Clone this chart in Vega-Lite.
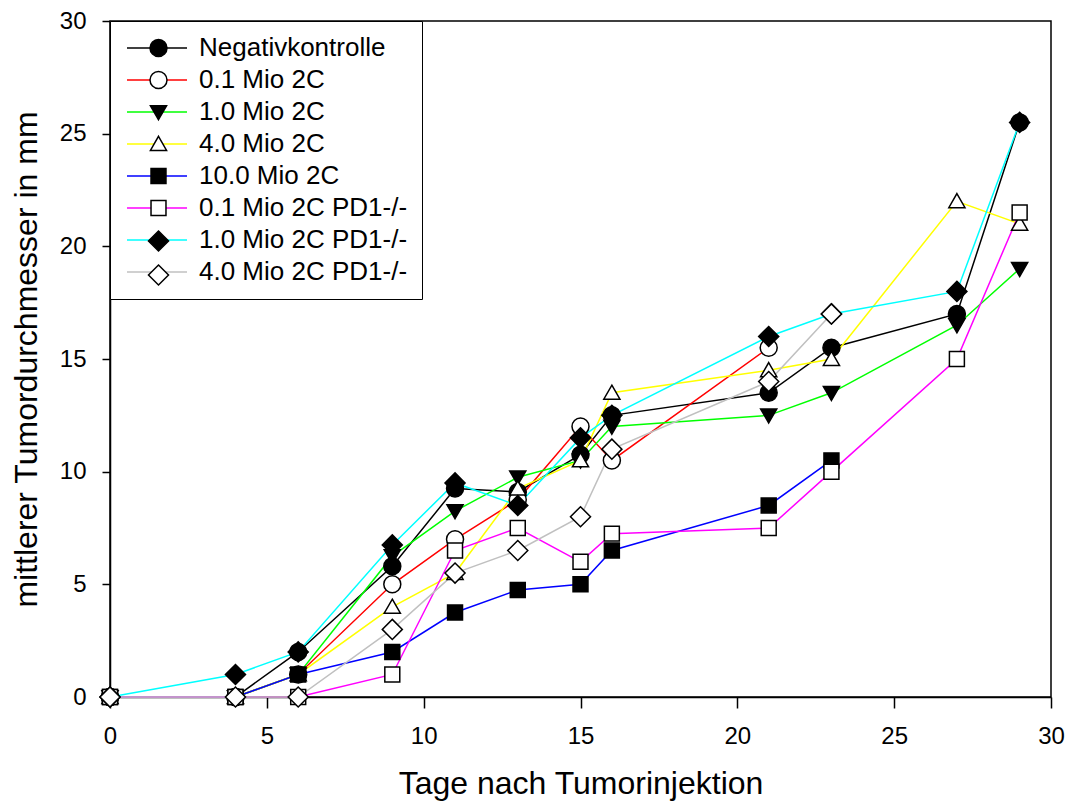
{
  "$schema": "https://vega.github.io/schema/vega-lite/v6.json",
  "width": 941,
  "height": 676,
  "autosize": "none",
  "padding": {"left": 110, "top": 21, "right": 18, "bottom": 104},
  "background": "white",
  "config": {
    "font": "Liberation Sans",
    "view": {"stroke": "black", "strokeWidth": 1.5},
    "axis": {
      "domainColor": "black", "domainWidth": 1.5, "tickColor": "black", "tickWidth": 1.5,
      "labelColor": "black", "titleColor": "black", "labelFontSize": 24, "titleFontSize": 32,
      "titleFontWeight": "normal", "grid": false, "labelFont": "Liberation Sans", "titleFont": "Liberation Sans",
      "labelPadding": 16, "labelFlush": false
    }
  },
  "resolve": {"legend": {"color": "independent", "shape": "independent", "fill": "independent"}},
  "data": {
    "values": [
      {"group": "Negativkontrolle", "day": 0, "mm": 0},
      {"group": "Negativkontrolle", "day": 4, "mm": 0},
      {"group": "Negativkontrolle", "day": 6, "mm": 2},
      {"group": "Negativkontrolle", "day": 9, "mm": 5.8},
      {"group": "Negativkontrolle", "day": 11, "mm": 9.25},
      {"group": "Negativkontrolle", "day": 13, "mm": 9.1},
      {"group": "Negativkontrolle", "day": 15, "mm": 10.75},
      {"group": "Negativkontrolle", "day": 16, "mm": 12.5},
      {"group": "Negativkontrolle", "day": 21, "mm": 13.5},
      {"group": "Negativkontrolle", "day": 23, "mm": 15.5},
      {"group": "Negativkontrolle", "day": 27, "mm": 17},
      {"group": "Negativkontrolle", "day": 29, "mm": 25.5},

      {"group": "0.1 Mio 2C", "day": 0, "mm": 0},
      {"group": "0.1 Mio 2C", "day": 4, "mm": 0},
      {"group": "0.1 Mio 2C", "day": 6, "mm": 1},
      {"group": "0.1 Mio 2C", "day": 9, "mm": 5},
      {"group": "0.1 Mio 2C", "day": 11, "mm": 7},
      {"group": "0.1 Mio 2C", "day": 13, "mm": 8.75},
      {"group": "0.1 Mio 2C", "day": 15, "mm": 12},
      {"group": "0.1 Mio 2C", "day": 16, "mm": 10.5},
      {"group": "0.1 Mio 2C", "day": 21, "mm": 15.5},

      {"group": "1.0 Mio 2C", "day": 0, "mm": 0},
      {"group": "1.0 Mio 2C", "day": 4, "mm": 0},
      {"group": "1.0 Mio 2C", "day": 6, "mm": 1},
      {"group": "1.0 Mio 2C", "day": 9, "mm": 6.25},
      {"group": "1.0 Mio 2C", "day": 11, "mm": 8.25},
      {"group": "1.0 Mio 2C", "day": 13, "mm": 9.75},
      {"group": "1.0 Mio 2C", "day": 15, "mm": 10.5},
      {"group": "1.0 Mio 2C", "day": 16, "mm": 12},
      {"group": "1.0 Mio 2C", "day": 21, "mm": 12.5},
      {"group": "1.0 Mio 2C", "day": 23, "mm": 13.5},
      {"group": "1.0 Mio 2C", "day": 27, "mm": 16.5},
      {"group": "1.0 Mio 2C", "day": 29, "mm": 19},

      {"group": "4.0 Mio 2C", "day": 0, "mm": 0},
      {"group": "4.0 Mio 2C", "day": 4, "mm": 0},
      {"group": "4.0 Mio 2C", "day": 6, "mm": 1},
      {"group": "4.0 Mio 2C", "day": 9, "mm": 4},
      {"group": "4.0 Mio 2C", "day": 11, "mm": 5.5},
      {"group": "4.0 Mio 2C", "day": 13, "mm": 9.25},
      {"group": "4.0 Mio 2C", "day": 15, "mm": 10.5},
      {"group": "4.0 Mio 2C", "day": 16, "mm": 13.5},
      {"group": "4.0 Mio 2C", "day": 21, "mm": 14.5},
      {"group": "4.0 Mio 2C", "day": 23, "mm": 15},
      {"group": "4.0 Mio 2C", "day": 27, "mm": 22},
      {"group": "4.0 Mio 2C", "day": 29, "mm": 21},

      {"group": "10.0 Mio 2C", "day": 0, "mm": 0},
      {"group": "10.0 Mio 2C", "day": 4, "mm": 0},
      {"group": "10.0 Mio 2C", "day": 6, "mm": 1},
      {"group": "10.0 Mio 2C", "day": 9, "mm": 2},
      {"group": "10.0 Mio 2C", "day": 11, "mm": 3.75},
      {"group": "10.0 Mio 2C", "day": 13, "mm": 4.75},
      {"group": "10.0 Mio 2C", "day": 15, "mm": 5},
      {"group": "10.0 Mio 2C", "day": 16, "mm": 6.5},
      {"group": "10.0 Mio 2C", "day": 21, "mm": 8.5},
      {"group": "10.0 Mio 2C", "day": 23, "mm": 10.5},

      {"group": "0.1 Mio 2C PD1-/-", "day": 0, "mm": 0},
      {"group": "0.1 Mio 2C PD1-/-", "day": 4, "mm": 0},
      {"group": "0.1 Mio 2C PD1-/-", "day": 6, "mm": 0},
      {"group": "0.1 Mio 2C PD1-/-", "day": 9, "mm": 1},
      {"group": "0.1 Mio 2C PD1-/-", "day": 11, "mm": 6.5},
      {"group": "0.1 Mio 2C PD1-/-", "day": 13, "mm": 7.5},
      {"group": "0.1 Mio 2C PD1-/-", "day": 15, "mm": 6},
      {"group": "0.1 Mio 2C PD1-/-", "day": 16, "mm": 7.25},
      {"group": "0.1 Mio 2C PD1-/-", "day": 21, "mm": 7.5},
      {"group": "0.1 Mio 2C PD1-/-", "day": 23, "mm": 10},
      {"group": "0.1 Mio 2C PD1-/-", "day": 27, "mm": 15},
      {"group": "0.1 Mio 2C PD1-/-", "day": 29, "mm": 21.5},

      {"group": "1.0 Mio 2C PD1-/-", "day": 0, "mm": 0},
      {"group": "1.0 Mio 2C PD1-/-", "day": 4, "mm": 1},
      {"group": "1.0 Mio 2C PD1-/-", "day": 6, "mm": 2},
      {"group": "1.0 Mio 2C PD1-/-", "day": 9, "mm": 6.75},
      {"group": "1.0 Mio 2C PD1-/-", "day": 11, "mm": 9.5},
      {"group": "1.0 Mio 2C PD1-/-", "day": 13, "mm": 8.5},
      {"group": "1.0 Mio 2C PD1-/-", "day": 15, "mm": 11.5},
      {"group": "1.0 Mio 2C PD1-/-", "day": 16, "mm": 12.5},
      {"group": "1.0 Mio 2C PD1-/-", "day": 21, "mm": 16},
      {"group": "1.0 Mio 2C PD1-/-", "day": 23, "mm": 17},
      {"group": "1.0 Mio 2C PD1-/-", "day": 27, "mm": 18},
      {"group": "1.0 Mio 2C PD1-/-", "day": 29, "mm": 25.5},

      {"group": "4.0 Mio 2C PD1-/-", "day": 0, "mm": 0},
      {"group": "4.0 Mio 2C PD1-/-", "day": 4, "mm": 0},
      {"group": "4.0 Mio 2C PD1-/-", "day": 6, "mm": 0},
      {"group": "4.0 Mio 2C PD1-/-", "day": 9, "mm": 3},
      {"group": "4.0 Mio 2C PD1-/-", "day": 11, "mm": 5.5},
      {"group": "4.0 Mio 2C PD1-/-", "day": 13, "mm": 6.5},
      {"group": "4.0 Mio 2C PD1-/-", "day": 15, "mm": 8},
      {"group": "4.0 Mio 2C PD1-/-", "day": 16, "mm": 11},
      {"group": "4.0 Mio 2C PD1-/-", "day": 21, "mm": 14},
      {"group": "4.0 Mio 2C PD1-/-", "day": 23, "mm": 17}
    ]
  },
  "encoding": {
    "x": {
      "field": "day", "type": "quantitative",
      "scale": {"domain": [0, 30], "nice": false, "zero": false},
      "axis": {"values": [0, 5, 10, 15, 20, 25, 30], "title": "Tage nach Tumorinjektion", "tickSize": 11, "titlePadding": 20}
    },
    "y": {
      "field": "mm", "type": "quantitative",
      "scale": {"domain": [0, 30], "nice": false},
      "axis": {"values": [0, 5, 10, 15, 20, 25, 30], "title": "mittlerer Tumordurchmesser in mm", "tickSize": 8, "titlePadding": 16}
    }
  },
  "layer": [
    {
      "mark": {"type": "line", "strokeWidth": 1.5},
      "encoding": {
        "color": {
          "field": "group", "type": "nominal",
          "scale": {
            "domain": ["Negativkontrolle", "0.1 Mio 2C", "1.0 Mio 2C", "4.0 Mio 2C", "10.0 Mio 2C", "0.1 Mio 2C PD1-/-", "1.0 Mio 2C PD1-/-", "4.0 Mio 2C PD1-/-"],
            "range": ["#000000", "#ff0000", "#00ff00", "#ffff00", "#0000ff", "#ff00ff", "#00ffff", "#c0c0c0"]
          },
          "legend": {
            "orient": "none", "legendX": 0, "legendY": 0, "title": null,
            "symbolType": "M-1,0H5", "symbolSize": 400, "symbolStrokeWidth": 1.5,
            "labelFontSize": 26, "labelColor": "black", "labelOffset": 49, "labelLimit": 400,
            "padding": 14, "rowPadding": 6, "strokeColor": "black", "fillColor": "white", "zindex": 1
          }
        },
        "order": {"field": "day", "type": "quantitative"}
      }
    },
    {
      "transform": [{"calculate": "datum.group", "as": "marker"}],
      "mark": {"type": "point", "filled": true, "stroke": "black", "strokeWidth": 1.5, "size": 289, "opacity": 1},
      "encoding": {
        "shape": {
          "field": "marker", "type": "nominal",
          "scale": {
            "domain": ["Negativkontrolle", "0.1 Mio 2C", "1.0 Mio 2C", "4.0 Mio 2C", "10.0 Mio 2C", "0.1 Mio 2C PD1-/-", "1.0 Mio 2C PD1-/-", "4.0 Mio 2C PD1-/-"],
            "range": ["circle", "circle", "M0,0.9L0.95,-0.75L-0.95,-0.75Z", "M0,-0.9L0.95,0.75L-0.95,0.75Z", "M-0.88,-0.88H0.88V0.88H-0.88Z", "M-0.88,-0.88H0.88V0.88H-0.88Z", "M0,-1.18L1.18,0L0,1.18L-1.18,0Z", "M0,-1.18L1.18,0L0,1.18L-1.18,0Z"]
          },
          "legend": {
            "orient": "none", "legendX": 21.5, "legendY": 0, "title": null,
            "symbolSize": 289, "labelExpr": "' '",
            "labelFontSize": 26, "labelOffset": 49, "labelLimit": 400,
            "padding": 14, "rowPadding": 6, "zindex": 2,
            "encode": {"symbols": {"update": {"stroke": {"value": "black"}, "strokeWidth": {"value": 1.5}, "opacity": {"value": 1}}}}
          }
        },
        "fill": {
          "field": "marker", "type": "nominal",
          "scale": {
            "domain": ["Negativkontrolle", "0.1 Mio 2C", "1.0 Mio 2C", "4.0 Mio 2C", "10.0 Mio 2C", "0.1 Mio 2C PD1-/-", "1.0 Mio 2C PD1-/-", "4.0 Mio 2C PD1-/-"],
            "range": ["#000000", "#ffffff", "#000000", "#ffffff", "#000000", "#ffffff", "#000000", "#ffffff"]
          },
          "legend": {
            "orient": "none", "legendX": 21.5, "legendY": 0, "title": null,
            "symbolSize": 289, "labelExpr": "' '",
            "labelFontSize": 26, "labelOffset": 49, "labelLimit": 400,
            "padding": 14, "rowPadding": 6, "zindex": 2,
            "encode": {"symbols": {"update": {"stroke": {"value": "black"}, "strokeWidth": {"value": 1.5}, "opacity": {"value": 1}}}}
          }
        }
      }
    }
  ]
}
